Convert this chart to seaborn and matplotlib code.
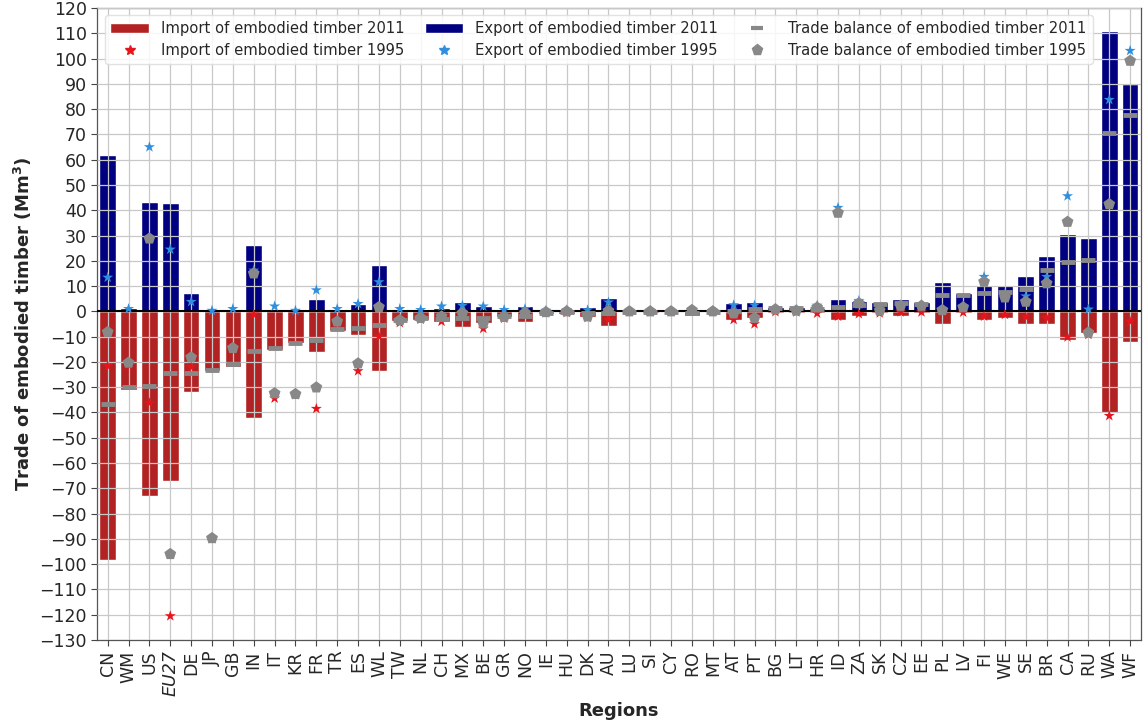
import numpy as np
import pandas as pd
import matplotlib
matplotlib.use("Agg")
import matplotlib.pyplot as plt
from matplotlib.patches import Patch
from matplotlib.lines import Line2D
import seaborn as sns

regions = ["CN", "WM", "US", "EU27", "DE", "JP", "GB", "IN", "IT", "KR",
           "FR", "TR", "ES", "WL", "TW", "NL", "CH", "MX", "BE", "GR",
           "NO", "IE", "HU", "DK", "AU", "LU", "SI", "CY", "RO", "MT",
           "AT", "PT", "BG", "LT", "HR", "ID", "ZA", "SK", "CZ", "EE",
           "PL", "LV", "FI", "WE", "SE", "BR", "CA", "RU", "WA", "WF"]

# Embodied timber trade, Mm3 (imports negative)
export_2011 = [61.8, 1.4, 43.4, 42.8, 7.4, 0.3, 1.0, 26.2, 1.0, 0.3,
               4.7, 1.0, 2.8, 18.2, 0.4, 0.5, 1.3, 3.6, 2.0, 0.4,
               2.3, 0.5, 0.8, 1.6, 5.4, 0.2, 0.3, 0.1, 1.1, 0.1,
               3.3, 3.6, 1.9, 1.9, 1.5, 4.9, 4.2, 3.6, 4.9, 3.6,
               11.5, 7.1, 10.4, 10.3, 14.0, 21.7, 30.6, 29.0, 110.8, 89.8]
import_2011 = [-98.5, -31.3, -73.0, -67.1, -31.8, -23.6, -22.0, -42.0, -15.4, -12.7,
               -16.1, -7.8, -9.2, -23.6, -3.9, -3.3, -4.2, -6.3, -4.6, -2.2,
               -4.3, -1.0, -1.2, -2.2, -5.9, -0.3, -0.5, -0.3, -1.7, -0.4,
               -3.3, -2.6, -0.5, -0.5, -0.6, -3.3, -1.7, -0.7, -1.7, -0.7,
               -5.0, -0.7, -3.3, -2.8, -5.2, -5.2, -11.2, -8.7, -40.2, -12.1]
export_1995 = [13.4, 1.0, 65.0, 24.5, 3.8, 0.3, 1.0, 16.2, 2.0, 0.3,
               8.4, 1.0, 3.0, 11.6, 1.0, 0.6, 2.0, 2.3, 2.0, 0.6,
               1.0, 0.3, 0.5, 0.5, 3.6, 0.1, 0.2, 0.1, 0.5, 0.1,
               2.5, 2.4, 1.0, 0.6, 2.3, 41.0, 4.2, 1.0, 2.5, 2.5,
               1.0, 2.0, 13.7, 6.8, 6.0, 13.7, 45.6, 0.8, 83.7, 103.1]
import_1995 = [-21.6, -21.3, -36.2, -120.5, -22.0, -90.0, -15.5, -1.2, -34.4, -33.0,
               -38.5, -5.0, -23.6, -9.9, -4.5, -3.2, -4.0, -3.0, -6.8, -2.8,
               -1.6, -0.6, -0.5, -2.5, -3.4, -0.1, -0.2, -0.1, 0.0, -0.1,
               -3.3, -5.0, -0.2, -0.3, -0.8, -2.0, -1.0, -0.7, -0.3, -0.3,
               -0.5, -0.4, -2.0, -1.3, -2.2, -2.6, -10.2, -9.2, -41.3, -4.0]

df = pd.DataFrame({
    "region": regions,
    "exp11": export_2011,
    "imp11": import_2011,
    "exp95": export_1995,
    "imp95": import_1995,
})
df["bal11"] = df["exp11"] + df["imp11"]
df["bal95"] = df["exp95"] + df["imp95"]

c_imp = "#b22222"
c_exp = "#000080"
c_star_imp = "#e8141c"
c_star_exp = "#2f8fde"
c_bal = "#888888"

sns.set_style("white")
plt.rcParams["font.family"] = ["DejaVu Sans"]

fig = plt.figure(figsize=(11.44, 7.24), dpi=100)
ax = fig.add_axes([0.085, 0.116, 0.912, 0.873])

sns.barplot(data=df, x="region", y="imp11", color=c_imp, saturation=1,
            width=0.8, ax=ax, zorder=2)
sns.barplot(data=df, x="region", y="exp11", color=c_exp, saturation=1,
            width=0.8, ax=ax, zorder=2)

ax.axhline(0, color="black", lw=1.5, zorder=4)

sns.scatterplot(data=df, x="region", y="imp95", marker="*", s=70,
                color=c_star_imp, edgecolor="none", ax=ax, zorder=5)
sns.scatterplot(data=df, x="region", y="exp95", marker="*", s=70,
                color=c_star_exp, edgecolor="none", ax=ax, zorder=5)
sns.scatterplot(data=df, x="region", y="bal11", marker="_", s=110,
                color=c_bal, linewidth=3.5, ax=ax, zorder=6)
sns.scatterplot(data=df, x="region", y="bal95", marker="p", s=80,
                color=c_bal, edgecolor="none", ax=ax, zorder=6)

ax.set_xlim(-0.5, len(regions) - 0.5)
ax.set_ylim(-130, 120)
ax.set_yticks(np.arange(-130, 121, 10))
ax.set_xticks(range(len(regions)))
ax.set_xticklabels(regions, rotation=90)
for lab in ax.get_xticklabels():
    if lab.get_text() == "EU27":
        lab.set_fontstyle("italic")
ax.tick_params(axis="both", labelsize=12.5, length=4, width=0.8,
               color="#444444", left=True, bottom=True)

ax.grid(True, color="#c8c8c8", lw=0.9, zorder=3)
ax.set_axisbelow(False)
for s in ax.spines.values():
    s.set_color("#555555")
    s.set_linewidth(0.9)

ax.set_xlabel("Regions", fontsize=13, fontweight="bold")
ax.set_ylabel("Trade of embodied timber (Mm$\\mathbf{^3}$)", fontsize=13,
              fontweight="bold")

handles = [
    Patch(facecolor=c_imp, label="Import of embodied timber 2011"),
    Line2D([], [], ls="none", marker="*", ms=7, color=c_star_imp,
           label="Import of embodied timber 1995"),
    Patch(facecolor=c_exp, label="Export of embodied timber 2011"),
    Line2D([], [], ls="none", marker="*", ms=7, color=c_star_exp,
           label="Export of embodied timber 1995"),
    Line2D([], [], ls="none", marker="_", ms=9, mew=3, color=c_bal,
           label="Trade balance of embodied timber 2011"),
    Line2D([], [], ls="none", marker="p", ms=8, color=c_bal,
           label="Trade balance of embodied timber 1995"),
]
leg = ax.legend(handles=handles, ncol=3, loc="upper left", fontsize=10.6,
                frameon=True, framealpha=0.85, edgecolor="#dddddd",
                handlelength=2.6, columnspacing=1.4, borderaxespad=0.5,
                labelspacing=0.45)
leg.set_zorder(10)

fig.savefig("out.png", dpi=100)
